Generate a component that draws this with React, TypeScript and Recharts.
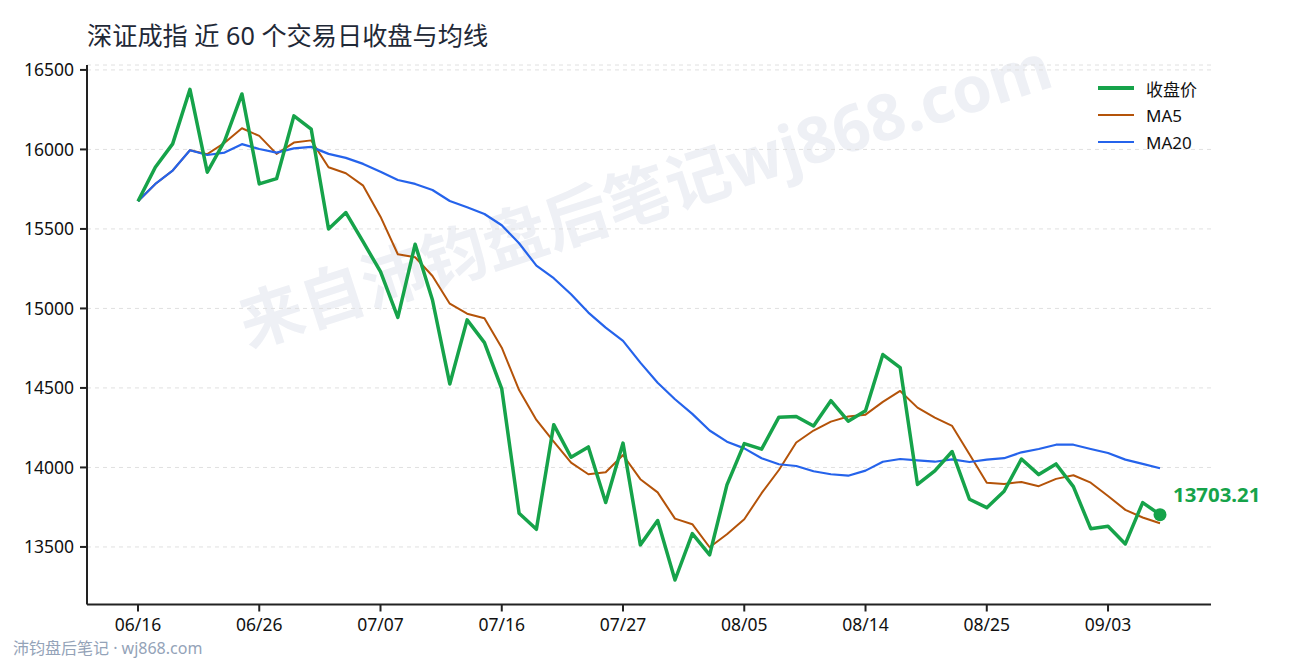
import React from "react";
import { LineChart, Line, XAxis, YAxis, CartesianGrid, ReferenceDot } from "recharts";

const dates = [
  "06/16","06/17","06/18","06/19","06/20","06/23","06/24","06/26","06/27","06/30",
  "07/01","07/02","07/03","07/04","07/07","07/08","07/09","07/10","07/11","07/14",
  "07/15","07/16","07/17","07/18","07/21","07/22","07/23","07/24","07/27","07/28",
  "07/29","07/30","07/31","08/01","08/04","08/05","08/06","08/07","08/08","08/11",
  "08/12","08/13","08/14","08/15","08/18","08/19","08/20","08/21","08/22","08/25",
  "08/26","08/27","08/28","08/29","09/01","09/02","09/03","09/04","09/05","09/08",
];
const closes = [
  15674,15888,16035,16378,15857,16053,16349,15783,15816,16211,
  16127,15500,15603,15418,15231,14944,15404,15053,14525,14928,
  14785,14494,13712,13611,14269,14064,14129,13779,14153,13513,
  13666,13292,13584,13450,13890,14150,14115,14316,14320,14261,
  14420,14291,14357,14710,14628,13893,13978,14100,13800,13747,
  13850,14053,13955,14022,13879,13615,13630,13519,13779,13703.21,
];
const ma5 = [
  15674,15783,15867,15995,15970,16042,16133,16085,15972,16043,
  16057,15888,15850,15772,15577,15341,15322,15204,15030,14967,
  14938,14753,14487,14299,14162,14030,13957,13970,14078,13926,
  13843,13678,13643,13498,13580,13674,13838,13984,14157,14232,
  14288,14320,14332,14412,14481,14376,14313,14261,14083,13904,
  13896,13909,13882,13928,13951,13904,13820,13733,13685,13649,
];
const ma20 = [
  15674,15783,15867,15995,15965,15980,16033,16003,15980,16007,
  16016,15972,15947,15909,15860,15808,15783,15745,15676,15636,
  15594,15523,15410,15269,15190,15089,14974,14879,14796,14659,
  14533,14429,14337,14232,14162,14120,14058,14020,14009,13976,
  13957,13948,13980,14036,14053,14045,14036,14051,14034,14049,
  14058,14095,14116,14143,14143,14116,14091,14049,14022,13995,
];
const yTicks = [13500, 14000, 14500, 15000, 15500, 16000, 16500];
const table = dates.map((d, i) => ({ d, close: closes[i], ma5: ma5[i], ma20: ma20[i] }));
const FONT = '"Noto Sans", "Noto Sans CJK SC", sans-serif';
const GREEN = "#16a34a", ORANGE = "#b45309", BLUE = "#2563eb", INK = "#222222";
const legendItems = [
  { label: "收盘价", color: GREEN, w: 4 },
  { label: "MA5", color: ORANGE, w: 2 },
  { label: "MA20", color: BLUE, w: 2 },
];

const EndMark = (p: any) => (
  <g>
    <circle cx={p.cx} cy={p.cy} r={6.5} fill={GREEN} />
    <text x={p.cx + 13} y={p.cy - 13} fill={GREEN} fontSize={20.4} fontWeight={700} fontFamily={FONT}>
      13703.21
    </text>
  </g>
);

export default function App() {
  return (
    <div style={{ position: "absolute", left: 0, top: 0, width: 1290, height: 660, background: "#fff", overflow: "hidden", fontFamily: FONT }}>
      <svg width={1290} height={660} style={{ position: "absolute", left: 0, top: 0 }}>
        <text x={645} y={218} textAnchor="middle" transform="rotate(-18 645 195)" fill="#eef0f5" fontWeight={700} fontSize={64} fontFamily={FONT}>
          来自沛钧盘后笔记wj868.com
        </text>
      </svg>
      <div style={{ position: "absolute", left: 87, top: 18, fontSize: 25.2, color: "#1f2937", lineHeight: "34px", whiteSpace: "nowrap" }}>
        深证成指 近 60 个交易日收盘与均线
      </div>
      <div style={{ position: "absolute", left: 13, top: 638, fontSize: 16, color: "#94a3b8", lineHeight: "20px", whiteSpace: "nowrap" }}>
        沛钧盘后笔记 · wj868.com
      </div>
      <div style={{ position: "absolute", left: 0, top: 0 }}>
        <LineChart width={1290} height={660} data={table} margin={{ top: 65, right: 79, left: 0, bottom: 0 }}>
          <CartesianGrid vertical={false} stroke="#e0e0e0" strokeWidth={1} strokeDasharray="4 4" />
          <XAxis dataKey="d" interval={6} height={55.5} padding={{ left: 51, right: 51 }} tickSize={7} tickMargin={7}
            axisLine={{ stroke: INK, strokeWidth: 2 }} tickLine={{ stroke: INK, strokeWidth: 2 }}
            tick={{ fill: "#111", fontSize: 17.5, fontFamily: FONT }} />
          <YAxis width={87} type="number" domain={[13138, 16531]} ticks={yTicks} tickSize={7} tickMargin={6}
            axisLine={{ stroke: INK, strokeWidth: 2 }} tickLine={{ stroke: INK, strokeWidth: 2 }}
            tick={{ fill: "#111", fontSize: 17.5, fontFamily: FONT }} />
          <Line dataKey="ma5" stroke={ORANGE} strokeWidth={2} strokeLinejoin="round" dot={false} isAnimationActive={false} />
          <Line dataKey="ma20" stroke={BLUE} strokeWidth={2.2} strokeLinejoin="round" dot={false} isAnimationActive={false} />
          <Line dataKey="close" stroke={GREEN} strokeWidth={3.5} strokeLinejoin="round" dot={false} isAnimationActive={false} />
          <ReferenceDot x={dates[59]} y={closes[59]} r={6} shape={<EndMark />} />
        </LineChart>
      </div>
      <div style={{ position: "absolute", left: 1098, top: 74.5, fontSize: 17, color: "#111" }}>
        {legendItems.map((it) => (
          <div key={it.label} style={{ display: "flex", alignItems: "center", height: 27 }}>
            <span style={{ width: 36, height: it.w, background: it.color, marginRight: 12, display: "inline-block" }} />
            <span>{it.label}</span>
          </div>
        ))}
      </div>
    </div>
  );
}
